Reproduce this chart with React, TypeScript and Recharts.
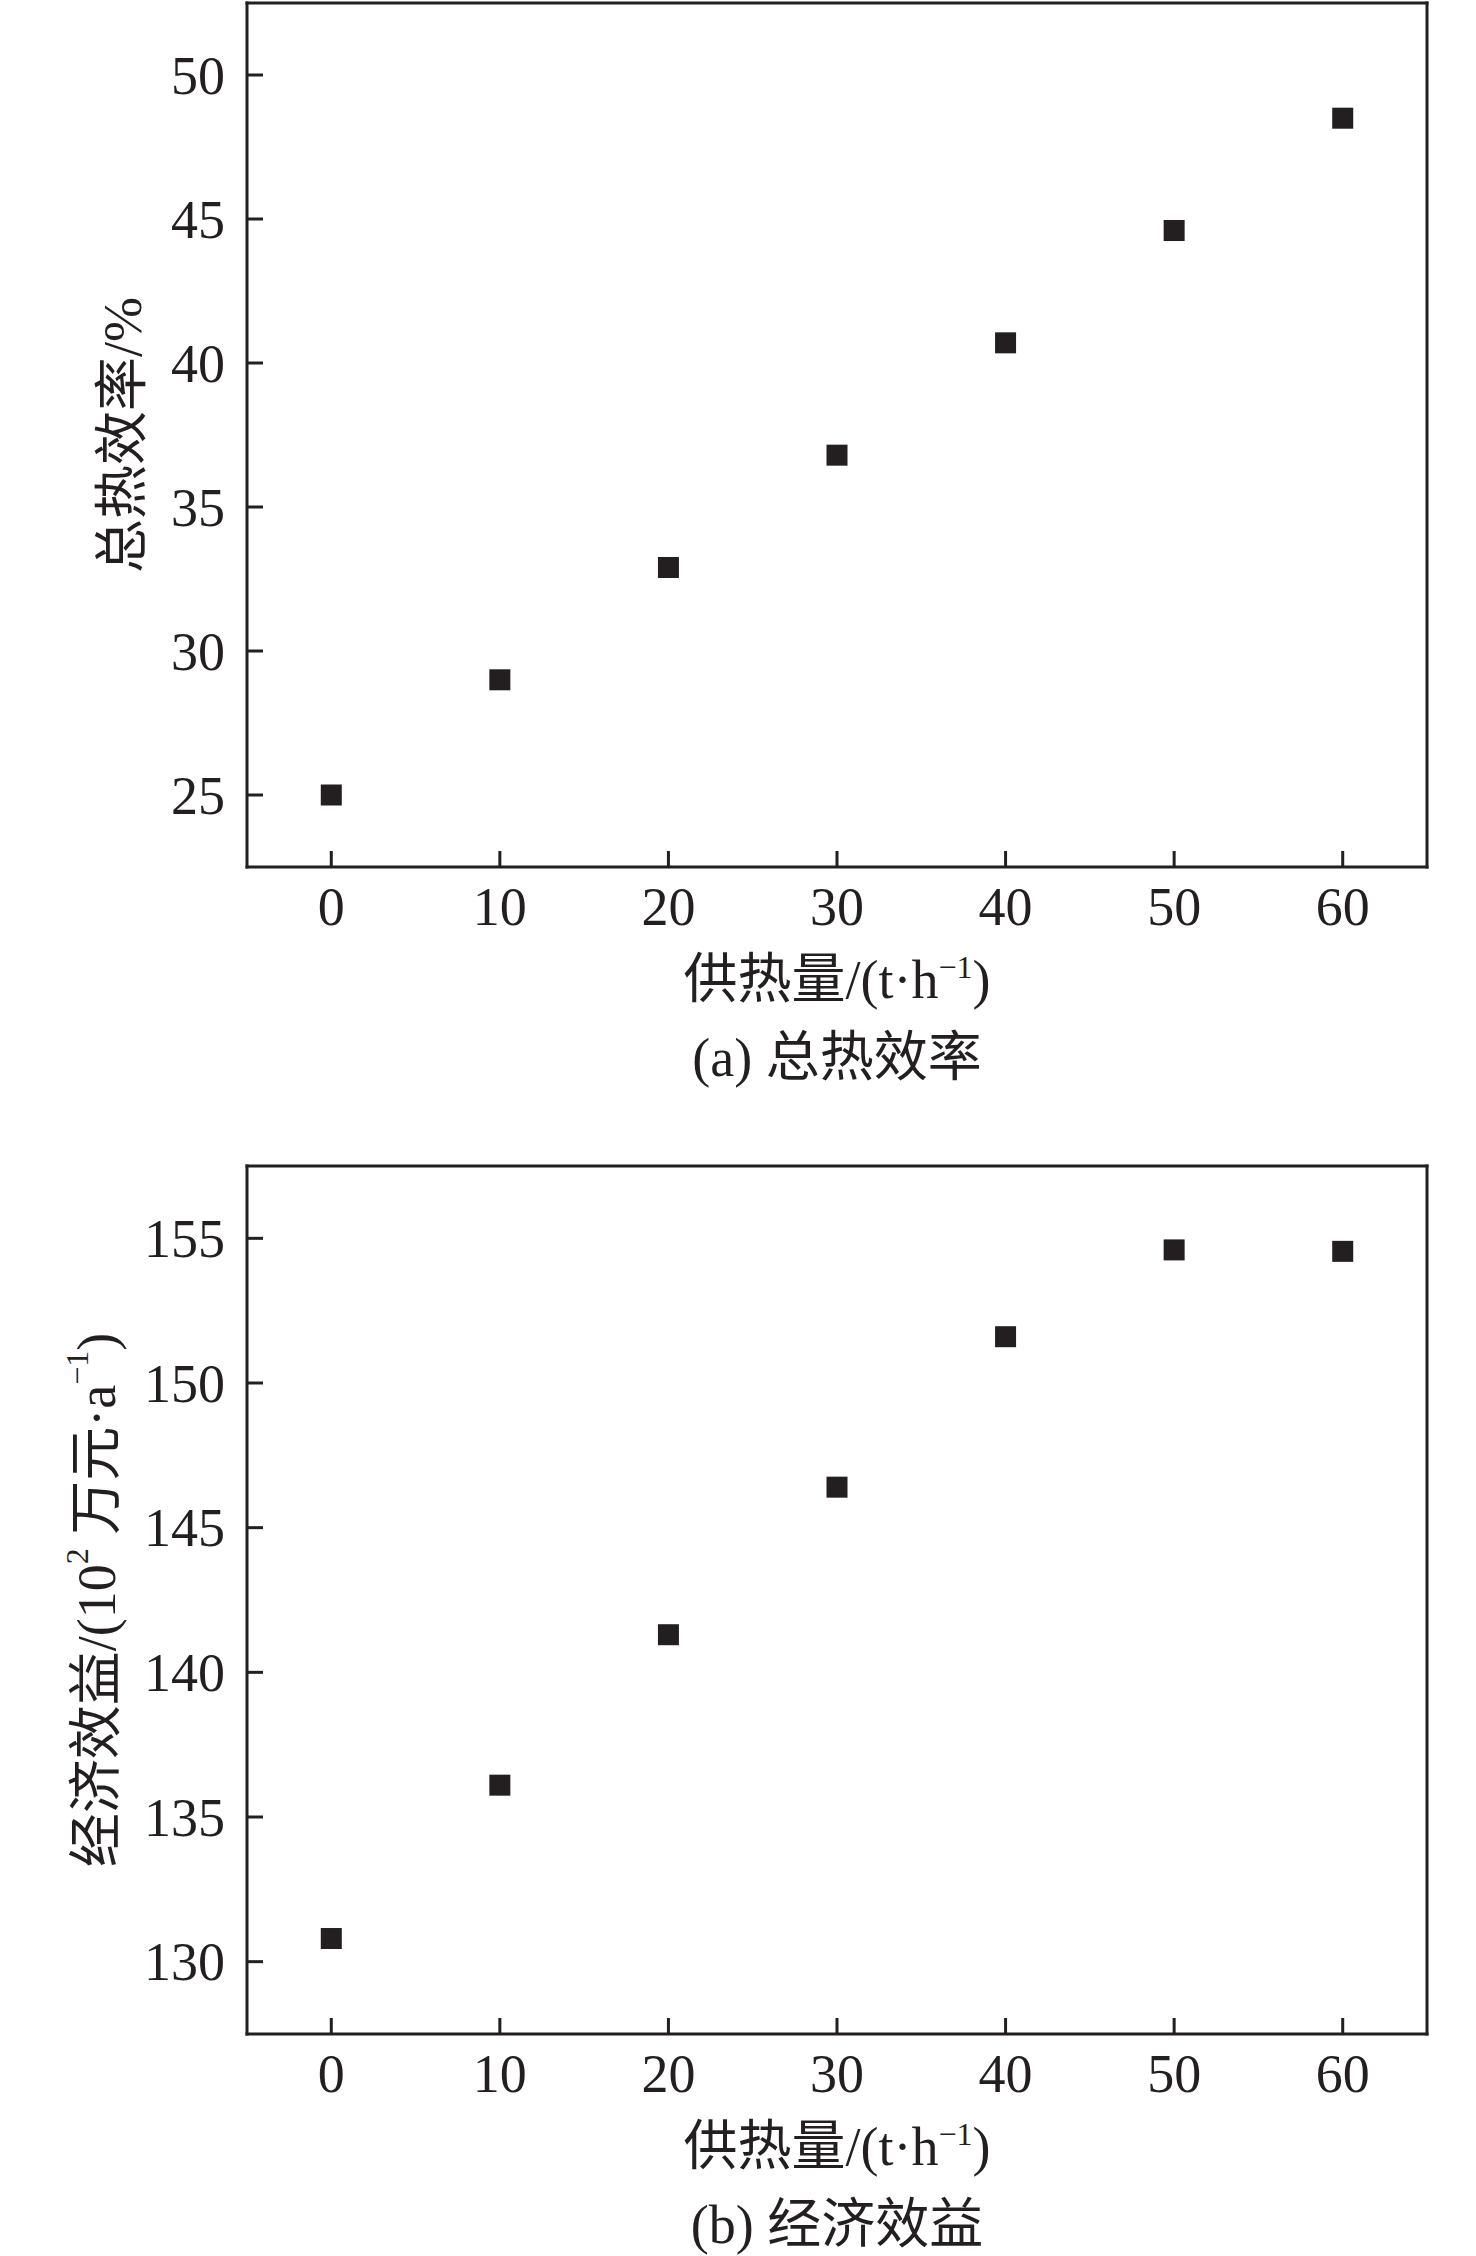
import React from 'react';
import { ScatterChart, Scatter, XAxis, YAxis, ReferenceLine } from 'recharts';

// ---- data ----
const heatSupply = [0, 10, 20, 30, 40, 50, 60];
const totalEfficiency = [25.0, 29.0, 32.9, 36.8, 40.7, 44.6, 48.5];
const economicBenefit = [130.8, 136.1, 141.3, 146.4, 151.6, 154.6, 154.55];

const xTicks = [0, 10, 20, 30, 40, 50, 60];
const efficiencyTicks = [25, 30, 35, 40, 45, 50];
const benefitTicks = [130, 135, 140, 145, 150, 155];

const xDomain: [number, number] = [-5, 65];
const efficiencyDomain: [number, number] = [22.5, 52.5];
const benefitDomain: [number, number] = [127.5, 157.5];

const efficiencyData = heatSupply.map((x, i) => ({ x, y: totalEfficiency[i] }));
const benefitData = heatSupply.map((x, i) => ({ x, y: economicBenefit[i] }));

// ---- styles ----
const INK = '#231f20';
const FONT = "'Liberation Serif', 'Times New Roman', 'Noto Sans CJK SC', serif";
const FS = 54;
const SUP = 32;

const XTick = (props: any) => {
  const { x, y, payload } = props;
  return (
    <g>
      <line x1={x} y1={y} x2={x} y2={y - 16} stroke={INK} strokeWidth={3} />
      <text x={x} y={y + 58} textAnchor="middle" fontFamily={FONT} fontSize={FS} fill={INK}>
        {payload.value}
      </text>
    </g>
  );
};

const YTick = (props: any) => {
  const { x, y, payload } = props;
  return (
    <g>
      <line x1={x} y1={y} x2={x + 16} y2={y} stroke={INK} strokeWidth={3} />
      <text x={x - 22} y={y + 18.5} textAnchor="end" fontFamily={FONT} fontSize={FS} fill={INK}>
        {payload.value}
      </text>
    </g>
  );
};

const SquareShape = (props: any) => {
  const { cx, cy } = props;
  return <rect x={cx - 10.5} y={cy - 10.5} width={21} height={21} fill={INK} />;
};

const XTitle = (props: any) => {
  const { cx, axisY, caption } = props;
  return (
    <g>
      <text x={cx} y={axisY + 131} textAnchor="middle" fontFamily={FONT} fontSize={FS} fill={INK}>
        供热量/(t·h
        <tspan dy={-20} fontSize={SUP}>−1</tspan>
        <tspan dy={20} fontSize={FS}>)</tspan>
      </text>
      <text x={cx} y={axisY + 209} textAnchor="middle" fontFamily={FONT} fontSize={FS} fill={INK}>
        {caption}
      </text>
    </g>
  );
};

const YTitleEfficiency = (props: any) => {
  const { cx, cy } = props;
  return (
    <text
      x={cx}
      y={cy}
      transform={`rotate(-90 ${cx} ${cy})`}
      textAnchor="middle"
      dominantBaseline="central"
      fontFamily={FONT}
      fontSize={FS}
      fill={INK}
    >
      总热效率/%
    </text>
  );
};

const YTitleBenefit = (props: any) => {
  const { cx, cy } = props;
  return (
    <text
      x={cx}
      y={cy}
      transform={`rotate(-90 ${cx} ${cy})`}
      textAnchor="middle"
      dominantBaseline="central"
      fontFamily={FONT}
      fontSize={FS}
      fill={INK}
    >
      经济效益/(10
      <tspan dy={-20} fontSize={SUP}>2</tspan>
      <tspan dy={20} fontSize={FS}> 万元·a</tspan>
      <tspan dy={-20} fontSize={SUP}>−1</tspan>
      <tspan dy={20} fontSize={FS}>)</tspan>
    </text>
  );
};

const frameLine = { stroke: INK, strokeWidth: 3, strokeLinecap: 'square' as const };

export default function App() {
  return (
    <div style={{ position: 'absolute', left: 0, top: 0, width: 1476, height: 2256, background: '#fff' }}>
      <div style={{ position: 'absolute', left: 0, top: 0 }}>
        <ScatterChart width={1476} height={1100} margin={{ top: 3, right: 49, left: 0, bottom: 0 }}>
          <XAxis
            type="number"
            dataKey="x"
            domain={xDomain}
            ticks={xTicks}
            interval={0}
            height={233}
            tickSize={0}
            tickMargin={0}
            tickLine={false}
            axisLine={frameLine}
            tick={XTick}
            label={<XTitle cx={837} axisY={867} caption="(a) 总热效率" />}
          />
          <YAxis
            type="number"
            dataKey="y"
            domain={efficiencyDomain}
            ticks={efficiencyTicks}
            interval={0}
            width={247}
            tickSize={0}
            tickMargin={0}
            tickLine={false}
            axisLine={frameLine}
            tick={YTick}
            label={<YTitleEfficiency cx={123} cy={435} />}
          />
          <ReferenceLine y={efficiencyDomain[1]} stroke={INK} strokeWidth={3} strokeLinecap="square" />
          <ReferenceLine x={xDomain[1]} stroke={INK} strokeWidth={3} strokeLinecap="square" />
          <Scatter data={efficiencyData} dataKey="y" shape={SquareShape} isAnimationActive={false} />
        </ScatterChart>
      </div>
      <div style={{ position: 'absolute', left: 0, top: 1130 }}>
        <ScatterChart width={1476} height={1126} margin={{ top: 36, right: 49, left: 0, bottom: 0 }}>
          <XAxis
            type="number"
            dataKey="x"
            domain={xDomain}
            ticks={xTicks}
            interval={0}
            height={222}
            tickSize={0}
            tickMargin={0}
            tickLine={false}
            axisLine={frameLine}
            tick={XTick}
            label={<XTitle cx={837} axisY={904} caption="(b) 经济效益" />}
          />
          <YAxis
            type="number"
            dataKey="y"
            domain={benefitDomain}
            ticks={benefitTicks}
            interval={0}
            width={247}
            tickSize={0}
            tickMargin={0}
            tickLine={false}
            axisLine={frameLine}
            tick={YTick}
            label={<YTitleBenefit cx={97} cy={470} />}
          />
          <ReferenceLine y={benefitDomain[1]} stroke={INK} strokeWidth={3} strokeLinecap="square" />
          <ReferenceLine x={xDomain[1]} stroke={INK} strokeWidth={3} strokeLinecap="square" />
          <Scatter data={benefitData} dataKey="y" shape={SquareShape} isAnimationActive={false} />
        </ScatterChart>
      </div>
    </div>
  );
}
